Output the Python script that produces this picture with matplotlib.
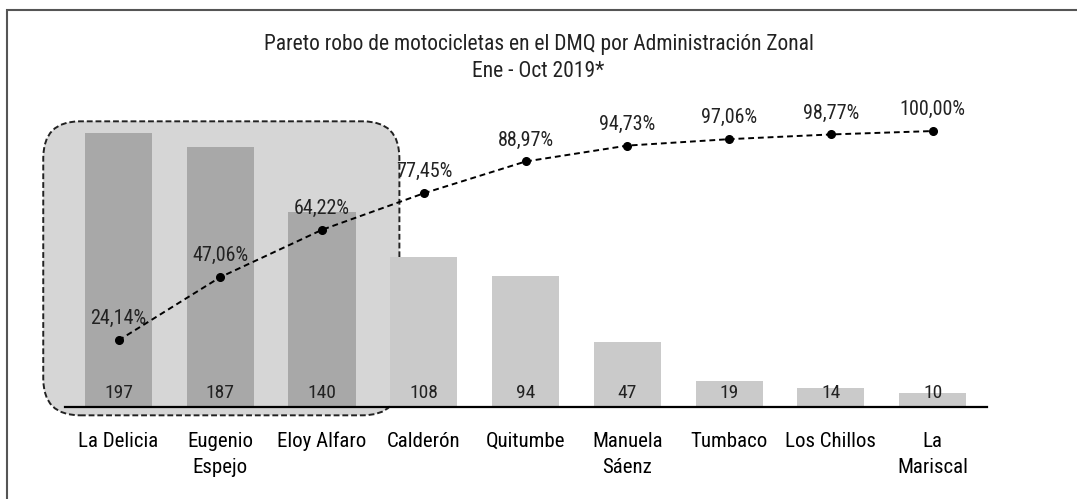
import matplotlib.pyplot as plt
from matplotlib.patches import FancyBboxPatch, Rectangle

zonas = ["La Delicia", "Eugenio\nEspejo", "Eloy Alfaro", "Calderón", "Quitumbe",
         "Manuela\nSáenz", "Tumbaco", "Los Chillos", "La\nMariscal"]
robos = [197, 187, 140, 108, 94, 47, 19, 14, 10]
acumulado = [24.14, 47.06, 64.22, 77.45, 88.97, 94.73, 97.06, 98.77, 100.00]
n_top = 3

plt.rcParams['font.family'] = ['Roboto Condensed', 'DejaVu Sans']

fig = plt.figure(figsize=(10.77, 4.99), dpi=100)
ax = fig.add_axes([0.06, 0.1844, 0.856, 0.585])
ax2 = ax.twinx()

x = list(range(len(zonas)))
colores = ["#a8a8a8" if i < n_top else "#cacaca" for i in x]
ax.bar(x, robos, width=0.66, color=colores, zorder=2)
for i, v in enumerate(robos):
    ax.text(i, 10, str(v), ha="center", va="center", fontsize=14, color="#222222", zorder=5)

ax.set_xlim(-0.53, len(zonas) - 0.47)
ax.set_ylim(0, 210)
ax2.set_ylim(0, 210 * 100 / 198.5)

ax2.plot(x, acumulado, color="black", linestyle=(0, (3, 2)), linewidth=1.4,
         marker="o", markersize=5.5, zorder=4)
for i, p in enumerate(acumulado):
    ax2.annotate(f"{p:.2f}%".replace(".", ","), (i, p), xytext=(0, 15.5),
                 textcoords="offset points", ha="center", va="center",
                 fontsize=14.5, color="#222222")

ax.set_xticks(x)
ax.set_xticklabels(zonas, fontsize=15, linespacing=1.45, va="top")
ax.tick_params(axis="x", length=0, pad=18)
ax.set_yticks([])
ax2.set_yticks([])
for a in (ax, ax2):
    for s in ("top", "left", "right"):
        a.spines[s].set_visible(False)
ax.spines["bottom"].set_linewidth(1.6)
ax2.spines["bottom"].set_visible(False)

# caja redondeada punteada que resalta las primeras zonas
fig.canvas.draw()
p0 = ax.transData.transform((0, 0))
p1 = ax.transData.transform((1, 1))
aspect = (p1[0] - p0[0]) / (p1[1] - p0[1])
caja = FancyBboxPatch((-0.74, -6), n_top - 1 + 0.74 + 0.76, 211.5,
                      boxstyle="round,pad=0,rounding_size=0.36",
                      mutation_aspect=aspect, facecolor="#d6d6d6", edgecolor="#222222",
                      linestyle=(0, (3, 1.5)), linewidth=1.4, clip_on=False, zorder=1)
ax.add_patch(caja)

fig.text(0.5, 0.91, "Pareto robo de motocicletas en el DMQ por Administración Zonal",
         ha="center", va="center", fontsize=15.5, color="#222222")
fig.text(0.5, 0.856, "Ene - Oct 2019*", ha="center", va="center", fontsize=15.5, color="#222222")

fig.patches.append(Rectangle((0.0065, -0.1), 1.2, 1.08, transform=fig.transFigure,
                             fill=False, edgecolor="#555555", linewidth=1.5))

fig.savefig("out.png", dpi=100)
